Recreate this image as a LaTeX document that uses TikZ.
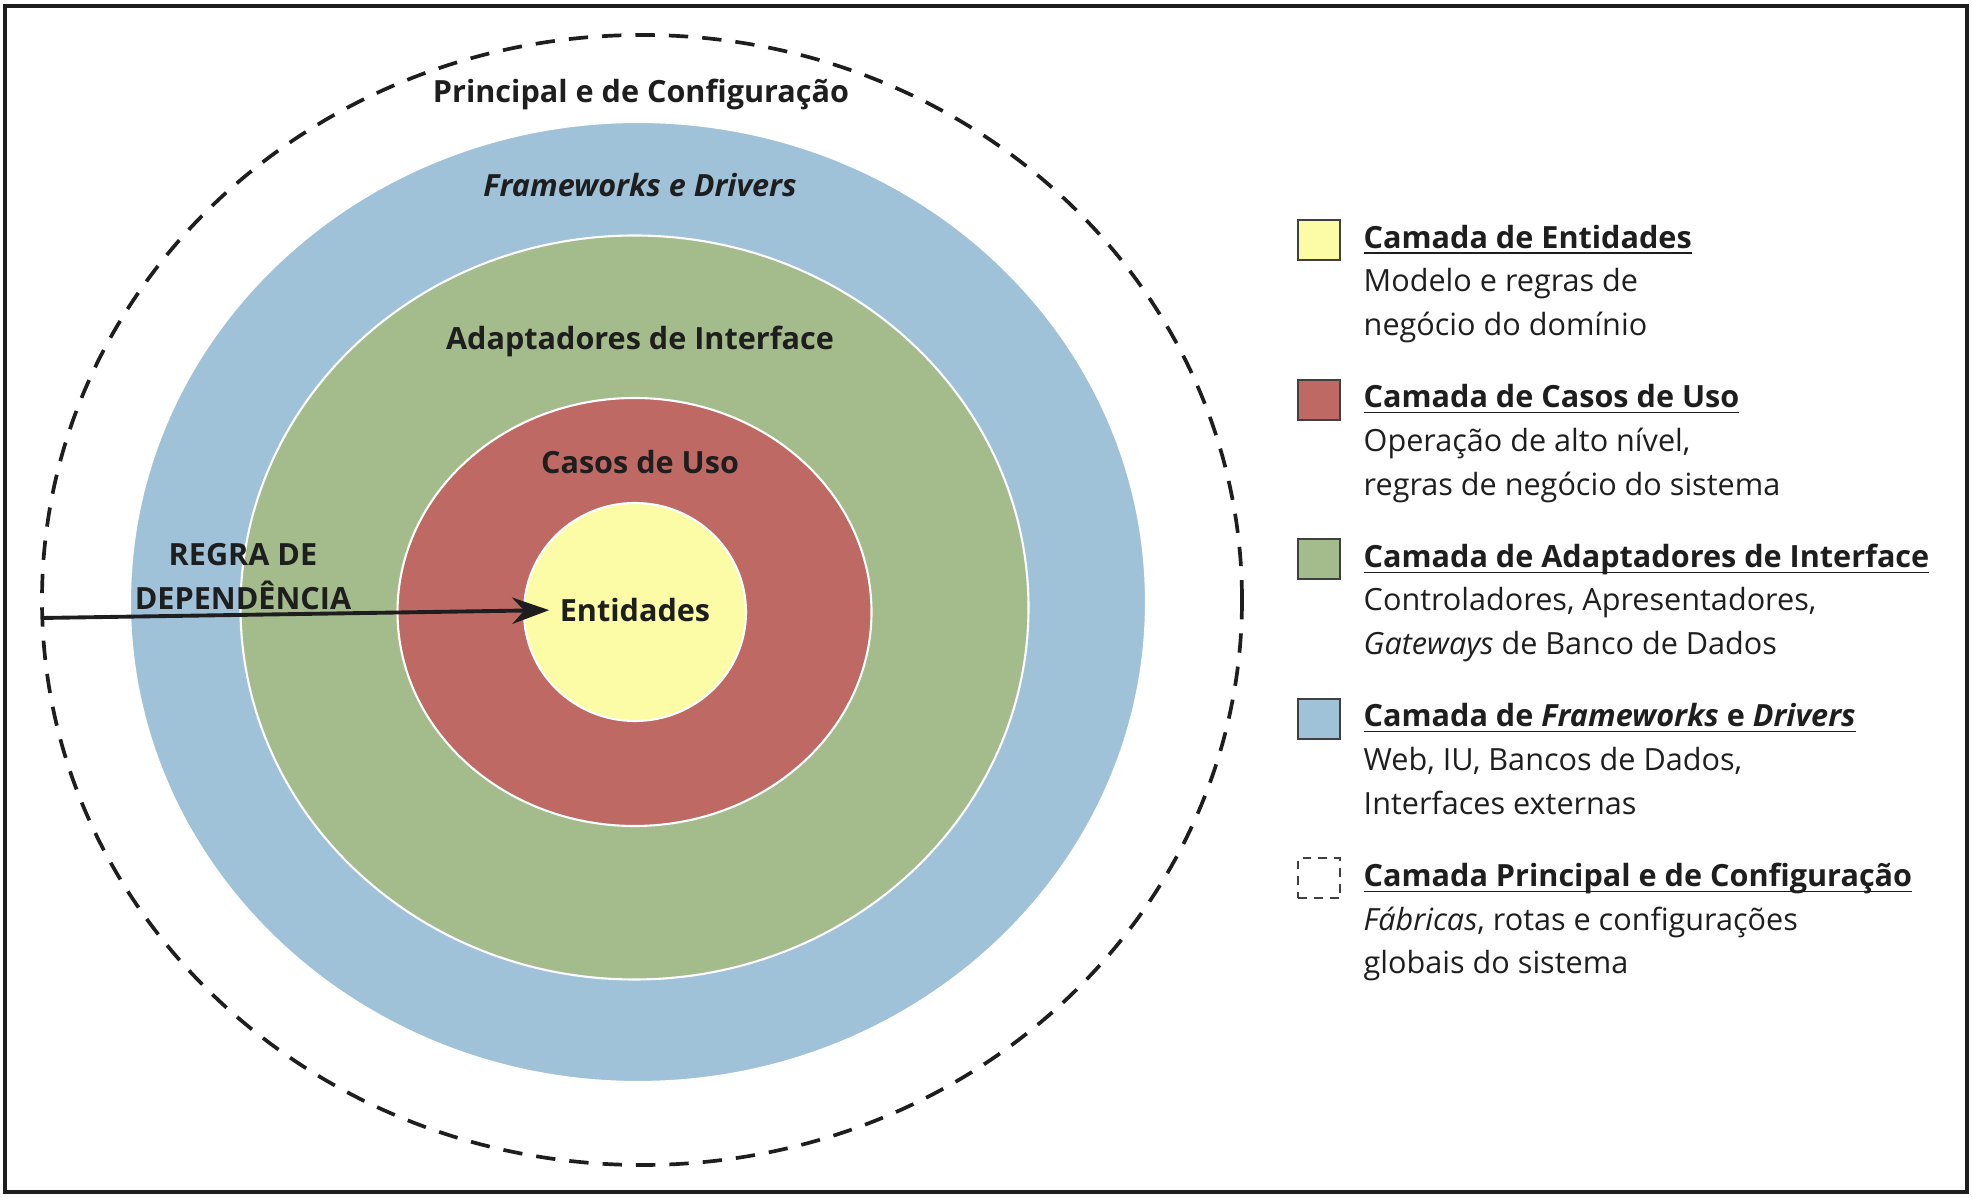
\documentclass[tikz,border=0pt]{standalone}
\usepackage{amsmath}
\usepackage{fontspec}
\setmainfont{Open Sans}
\usetikzlibrary{arrows.meta,positioning}
\definecolor{Ink}{HTML}{1E1E1E}
\definecolor{YelF}{HTML}{FBFCA5}
\definecolor{RedF}{HTML}{BE6964}
\definecolor{GrnF}{HTML}{A4BB8B}
\definecolor{BluF}{HTML}{A0C2D9}
\newcommand{\keyline}[1]{\underline{\smash[b]{#1}}}

\begin{document}
\begin{tikzpicture}[x=0.01cm,y=-0.01cm,font=\fontsize{8.7}{12.5}\selectfont,text=Ink,
    ring/.style={draw=white,line width=0.6pt},
    lbl/.style={font=\fontsize{8.7}{12.5}\selectfont\bfseries,inner sep=0pt},
    swatch/.style={draw=Ink!85,line width=0.5pt,minimum width=0.42cm,minimum height=0.40cm,inner sep=0pt},
    keyt/.style={font=\fontsize{8.7}{12.5}\selectfont\bfseries,anchor=base west,inner sep=0pt},
    keyb/.style={align=left,inner sep=0pt},
    >={Stealth[length=10.5pt,width=7.5pt]}]
  \useasboundingbox (0,0) rectangle (1972,1198);
  \draw[Ink,line width=1.2pt] (5,6) rectangle (1967,1192);
  % layers, outside in
  \draw[Ink,line width=1.05pt,dash pattern=on 5.5pt off 4pt] (642,600) ellipse [x radius=600,y radius=565];
  \draw[ring,fill=BluF] (638,602) ellipse [x radius=508,y radius=480];
  \draw[ring,fill=GrnF] (634.5,607.5) ellipse [x radius=394,y radius=372];
  \draw[ring,fill=RedF] (634.5,612) ellipse [x radius=237,y radius=214];
  \draw[ring,fill=YelF] (635,612) ellipse [x radius=111,y radius=109];
  \node[lbl] (main) at (641,94.5) {Principal e de Configuração};
  \node[lbl] (fw) at (640,185) {\itshape Frameworks e Drivers};
  \node[lbl] (adp) at (640,341) {Adaptadores de Interface};
  \node[lbl] (uc) at (640,462) {Casos de Uso};
  \node[lbl] (ent) at (635,610) {Entidades};
  \node[lbl,align=center] (rule) at (243,577) {REGRA DE\\DEPENDÊNCIA};
  \coordinate (dep) at (42,618);
  \draw[->,Ink,line width=1.1pt,shorten >=1mm] (dep) -- (ent.west);
  % legend
  \node[keyt] (t1) at (1363,248.5) {\keyline{Camada de Entidades}};
  \node[swatch,fill=YelF,left=0.22cm of t1] (s1) {};
  \node[keyb,below=0.12cm of t1.south west,anchor=north west] (b1) {Modelo e regras de\\negócio do domínio};
  \node[keyt] (t2) at (1363,408) {\keyline{Camada de Casos de Uso}};
  \node[swatch,fill=RedF,left=0.22cm of t2] (s2) {};
  \node[keyb,below=0.12cm of t2.south west,anchor=north west] (b2) {Operação de alto nível,\\regras de negócio do sistema};
  \node[keyt] (t3) at (1363,567.5) {\keyline{Camada de Adaptadores de Interface}};
  \node[swatch,fill=GrnF,left=0.22cm of t3] (s3) {};
  \node[keyb,below=0.12cm of t3.south west,anchor=north west] (b3) {Controladores, Apresentadores,\\\textit{Gateways} de Banco de Dados};
  \node[keyt] (t4) at (1363,727) {\keyline{Camada de \textit{Frameworks} e \textit{Drivers}}};
  \node[swatch,fill=BluF,left=0.22cm of t4] (s4) {};
  \node[keyb,below=0.12cm of t4.south west,anchor=north west] (b4) {Web, IU, Bancos de Dados,\\Interfaces externas};
  \node[keyt] (t5) at (1363,886.5) {\keyline{Camada Principal e de Configuração}};
  \node[swatch,fill=white,dash pattern=on 2.5pt off 2pt,left=0.22cm of t5] (s5) {};
  \node[keyb,below=0.12cm of t5.south west,anchor=north west] (b5) {\textit{Fábricas}, rotas e configurações\\globais do sistema};
\end{tikzpicture}
\end{document}
